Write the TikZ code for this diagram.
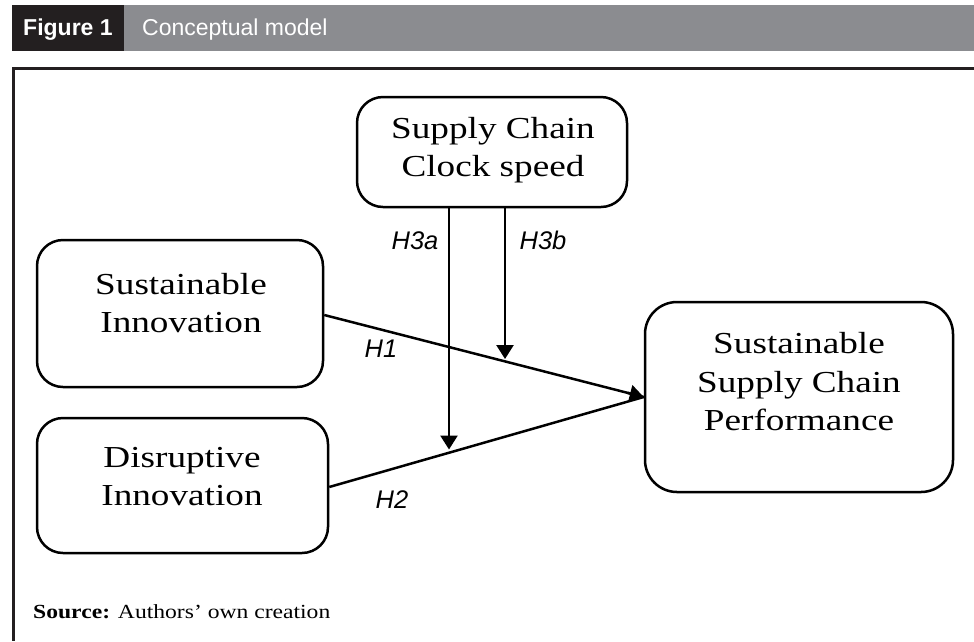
\documentclass[tikz,border=0pt]{standalone}
\usepackage{fontspec}
\setmainfont{Liberation Serif}
\newfontfamily\boxfont[FakeStretch=1.22]{Liberation Serif}
\newfontfamily\srcfont[FakeStretch=1.18]{Liberation Serif}
\newfontfamily\hdfont{Liberation Sans}
\usetikzlibrary{arrows.meta,calc}
\definecolor{hdgray}{RGB}{139,140,144}
\definecolor{hddark}{RGB}{35,31,32}
\tikzset{
  box/.style={draw=black, line width=2.5pt, rounded corners=26pt, inner sep=0pt},
  boxtext/.style={align=center, font=\boxfont\fontsize{30.5}{38.5}\selectfont, inner sep=0pt},
  hyp/.style={font=\hdfont\itshape\fontsize{25.5}{28}\selectfont, inner sep=0pt},
  link/.style={line width=2.5pt, -{Triangle[length=14pt,width=17pt]}},
  frame/.style={line width=3pt, draw=hddark}
}
\begin{document}
\begin{tikzpicture}[x=1pt,y=-1pt]
\useasboundingbox (0,0) rectangle (974,641);
% header
\fill[hddark] (12,5) rectangle (124,51);
\fill[hdgray] (124,5) rectangle (974,51);
\node[anchor=base west, inner sep=0pt, text=white, font=\hdfont\bfseries\fontsize{23}{26}\selectfont] (fig) at (23,35) {Figure 1};
\node[anchor=base west, inner sep=0pt, text=white, font=\hdfont\fontsize{23}{26}\selectfont] (title) at (142,35) {Conceptual model};
% frame
\draw[frame] (974,68) -- (13,68) -- (13,641);
% boxes
\node[box, minimum width=270pt, minimum height=110pt] (sccs) at (492,152) {};
\node[boxtext] (sccst) at (493,150) {Supply Chain\\Clock speed};
\node[box, minimum width=286pt, minimum height=147pt] (si) at (180,313.5) {};
\node[boxtext] (sit) at (181,303) {Sustainable\\Innovation};
\node[box, minimum width=291pt, minimum height=135pt] (di) at (182.5,485.5) {};
\node[boxtext] (dit) at (182,476.5) {Disruptive\\Innovation};
\node[box, minimum width=308pt, minimum height=190pt, rounded corners=32pt] (sscp) at (799,397) {};
\node[boxtext] (sscpt) at (799,382) {Sustainable\\Supply Chain\\Performance};
% connector endpoints
\coordinate (h1s) at (si.east |- 0,315);
\coordinate (h2s) at (di.east |- 0,487);
\coordinate (tip) at (sscp.west);
\coordinate (h3as) at (449,0 |- sccs.south);
\coordinate (h3bs) at (505,0 |- sccs.south);
\coordinate (h3ae) at (449,449.5);
\coordinate (h3be) at (505,359);
% connectors
\draw[line width=2.5pt] (h1s) -- (tip);
\draw[line width=2.5pt] (h2s) -- (tip);
\draw[link] ($(h1s)!0.95!(tip)$) -- (tip);
\draw[link] (h3as) -- (h3ae);
\draw[link] (h3bs) -- (h3be);
% labels
\node[hyp, anchor=base] (lh3a) at (415,249) {H3a};
\node[hyp, anchor=base] (lh3b) at (543,249) {H3b};
\node[hyp, anchor=base] (lh1) at (381,357) {H1};
\node[hyp, anchor=base] (lh2) at (392,508) {H2};
% source
\node[anchor=base west, inner sep=0pt, font=\srcfont\fontsize{20}{24}\selectfont] (src) at (33,618) {\textbf{Source:} Authors’ own creation};
\end{tikzpicture}
\end{document}
